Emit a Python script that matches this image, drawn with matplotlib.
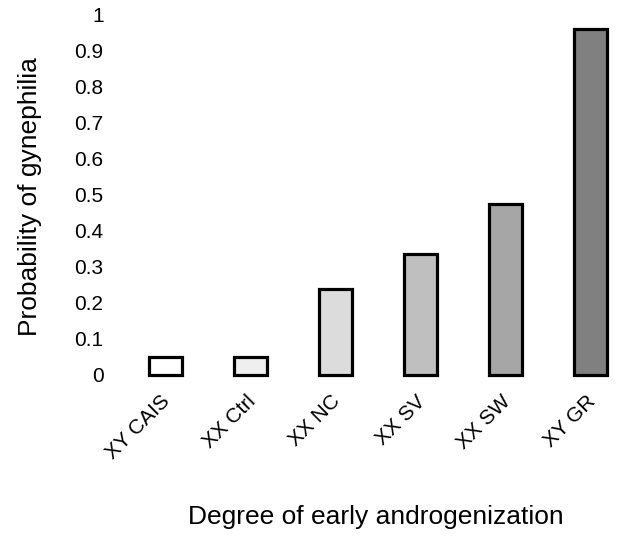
import matplotlib.pyplot as plt
import matplotlib.transforms as mtransforms
import numpy as np

# data
groups = ['XY CAIS', 'XX Ctrl', 'XX NC', 'XX SV', 'XX SW', 'XY GR']
prob = [0.05, 0.05, 0.24, 0.335, 0.475, 0.9625]
fills = ['#ffffff', '#efefef', '#dcdcdc', '#bfbfbf', '#a6a6a6', '#808080']
yticks = [0, 0.1, 0.2, 0.3, 0.4, 0.5, 0.6, 0.7, 0.8, 0.9, 1]
ylabels = ['0', '0.1', '0.2', '0.3', '0.4', '0.5', '0.6', '0.7', '0.8', '0.9', '1']

plt.rcParams['font.family'] = ['Liberation Sans', 'DejaVu Sans']

fig = plt.figure(figsize=(6.39, 5.39), dpi=100)
ax = fig.add_axes([123 / 639, 1 - 375 / 539, 510 / 639, 360 / 539])

x = np.arange(len(groups))
bars = ax.bar(x, prob, width=0.38, color=fills, edgecolor='black', linewidth=2.3)
for b in bars:
    b.set_clip_on(False)

ax.set_xlim(-0.5, 5.5)
ax.set_ylim(0, 1)
ax.set_yticks(yticks)
ax.set_yticklabels(ylabels, fontsize=15)
ax.set_xticks(x)
ax.set_xticklabels(groups, fontsize=15, rotation=45, ha='right', rotation_mode='anchor')
ax.tick_params(axis='both', length=0)
ax.tick_params(axis='y', pad=14)
ax.tick_params(axis='x', pad=12)
# nudge the rotated labels a little left, as in the original
shift = mtransforms.ScaledTranslation(-5 / 100, 0, fig.dpi_scale_trans)
for lbl in ax.get_xticklabels():
    lbl.set_transform(lbl.get_transform() + shift)
for s in ax.spines.values():
    s.set_visible(False)

fig.text(30 / 639, 1 - 197 / 539, 'Probability of gynephilia', fontsize=19,
         rotation=90, ha='center', va='center')
fig.text(376 / 639, 1 - 517 / 539, 'Degree of early androgenization', fontsize=19,
         ha='center', va='center')

fig.savefig('out.png', dpi=100)
